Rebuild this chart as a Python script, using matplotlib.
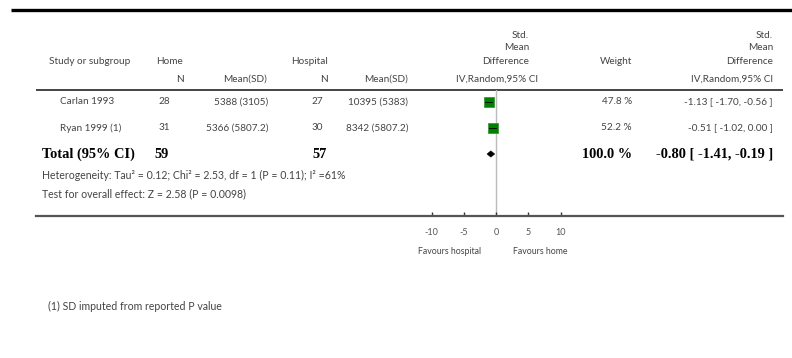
import matplotlib
matplotlib.use("Agg")
import matplotlib.pyplot as plt
from matplotlib.patches import Polygon

# ---------------- data ----------------
studies = ["Carlan 1993", "Ryan 1999 (1)"]
home_n = [28, 31]
home_mean_sd = ["5388 (3105)", "5366 (5807.2)"]
hosp_n = [27, 30]
hosp_mean_sd = ["10395 (5383)", "8342 (5807.2)"]
smd = [-1.13, -0.51]
ci_lo = [-1.70, -1.02]
ci_hi = [-0.56, 0.00]
weights = [47.8, 52.2]

total_home_n = 59
total_hosp_n = 57
total_smd = -0.80
total_lo = -1.41
total_hi = -0.19
total_weight = 100.0

heterogeneity = "Heterogeneity: Tau² = 0.12; Chi² = 2.53, df = 1 (P = 0.11); I² =61%"
overall = "Test for overall effect: Z = 2.58 (P = 0.0098)"
footnote = "(1) SD imputed from reported P value"
xticks = [-10, -5, 0, 5, 10]
fav_left = "Favours hospital"
fav_right = "Favours home"

# ---------------- layout ----------------
W, H = 792, 358
FONT = "Lato"
SERIF = "Liberation Serif"
TXT = "#444444"
FS = 7.2
FS_SMALL = 7.6
FS_BOLD = 10.4

fig = plt.figure(figsize=(W / 100, H / 100), dpi=100)
ax0 = fig.add_axes([0, 0, 1, 1])
ax0.set_xlim(0, W)
ax0.set_ylim(H, 0)
ax0.axis("off")

def t(x, y, s, ha="left", size=FS, bold=False, serif=False, color=TXT):
    ax0.text(x, y, s, ha=ha, va="center", fontsize=size,
             family=SERIF if serif else FONT,
             fontweight="bold" if bold else "normal", color=color)

# lines
ax0.plot([11, 792], [9.5, 9.5], color="black", lw=2.4, solid_capstyle="butt")
ax0.plot([36, 783], [89.5, 89.5], color="#444444", lw=1.4, solid_capstyle="butt")

# headers
t(49, 62, "Study or subgroup")
t(156, 62, "Home")
t(184, 79, "N", ha="right")
t(267, 79, "Mean(SD)", ha="right")
t(291, 62, "Hospital")
t(328, 79, "N", ha="right")
t(408, 79, "Mean(SD)", ha="right")
for yy, s in zip([36, 48, 61], ["Std.", "Mean", "Difference"]):
    t(529, yy, s, ha="right")
    t(773, yy, s, ha="right")
t(538, 79, "IV,Random,95% CI", ha="right")
t(773, 79, "IV,Random,95% CI", ha="right")
t(632, 62, "Weight", ha="right")

row_y = [102, 128]
for i, yy in enumerate(row_y):
    t(60, yy, studies[i])
    t(170, yy, str(home_n[i]), ha="right")
    t(268, yy, home_mean_sd[i], ha="right")
    t(323, yy, str(hosp_n[i]), ha="right")
    t(408, yy, hosp_mean_sd[i], ha="right")
    t(632, yy, f"{weights[i]:.1f} %", ha="right")
    t(773, yy, f"{smd[i]:.2f} [ {ci_lo[i]:.2f}, {ci_hi[i]:.2f} ]", ha="right")

ty = 154
t(42, ty, "Total (95% CI)", size=FS_BOLD, bold=True, serif=True, color="black")
t(169, ty, str(total_home_n), ha="right", size=FS_BOLD, bold=True, serif=True, color="black")
t(327, ty, str(total_hosp_n), ha="right", size=FS_BOLD, bold=True, serif=True, color="black")
t(632, ty, f"{total_weight:.1f} %", ha="right", size=FS_BOLD, bold=True, serif=True, color="black")
t(773, ty, f"{total_smd:.2f} [ {total_lo:.2f}, {total_hi:.2f} ]", ha="right",
  size=FS_BOLD, bold=True, serif=True, color="black")

t(42, 175, heterogeneity, size=FS_SMALL)
t(42, 194, overall, size=FS_SMALL)
t(48, 306, footnote, size=FS_SMALL)

# ---------------- forest panel ----------------
x0_px, x1_px, zero_px, ppu = 36, 783, 496, 6.45
y_top, y_bot = 90, 215.5
ax = fig.add_axes([x0_px / W, (H - y_bot) / H, (x1_px - x0_px) / W, (y_bot - y_top) / H])
ax.set_xlim((x0_px - zero_px) / ppu, (x1_px - zero_px) / ppu)
ax.set_ylim(y_bot, y_top)
ax.patch.set_alpha(0)
for s in ["left", "right", "top"]:
    ax.spines[s].set_visible(False)
ax.spines["bottom"].set_color("#555555")
ax.spines["bottom"].set_linewidth(1.6)
ax.set_yticks([])
ax.set_xticks(xticks)
ax.set_xticklabels([str(v) for v in xticks], family=FONT, fontsize=6.5, color="#555555")
ax.tick_params(axis="x", direction="in", length=3, width=1, color="#333333", pad=9)

ax.axvline(0, color="#bbbbbb", lw=1.0, zorder=1)

for i, yy in enumerate(row_y):
    ax.plot([ci_lo[i], ci_hi[i]], [yy, yy], color="black", lw=0.6, zorder=3)
    ax.plot([smd[i]], [yy], marker="s", markersize=1.0 * weights[i] ** 0.5,
            markerfacecolor="#008000", markeredgecolor="#3a9a3a", markeredgewidth=0.6,
            linestyle="none", zorder=2)

dh = 3.2
ax.add_patch(Polygon([[total_lo, ty], [total_smd, ty - dh], [total_hi, ty], [total_smd, ty + dh]],
                     closed=True, facecolor="black", edgecolor="black", lw=0.3, zorder=3))

t(450, 252, fav_left, ha="center", size=6.3)
t(540, 252, fav_right, ha="center", size=6.3)

fig.savefig("out.png", dpi=100)
